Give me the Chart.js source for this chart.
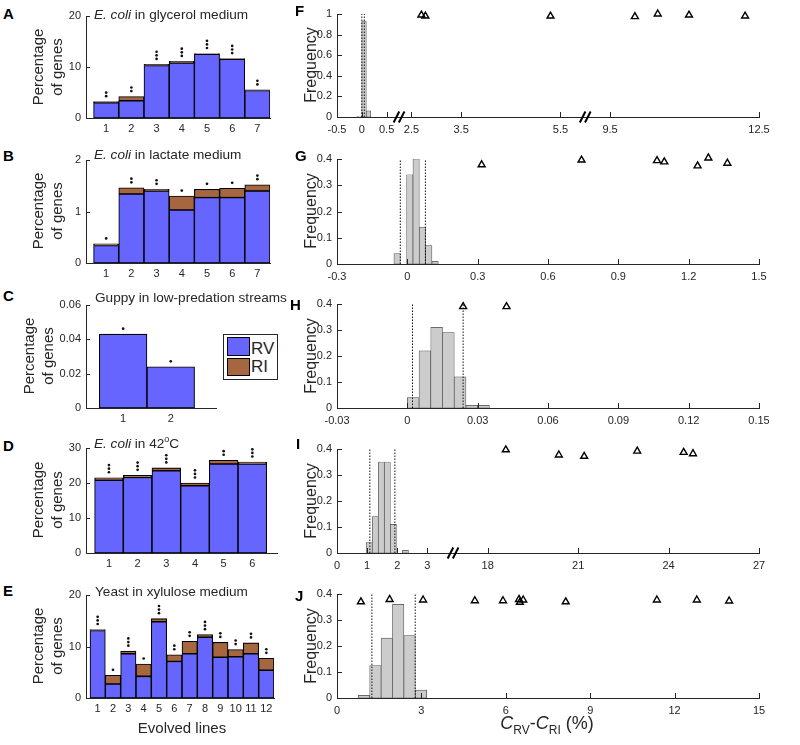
<!DOCTYPE html>
<html><head><meta charset="utf-8">
<script src="https://cdn.jsdelivr.net/npm/chart.js@4.4.0/dist/chart.umd.min.js"></script>
<style>
body{margin:0;background:#fff;width:800px;height:745px;position:relative;overflow:hidden;font-family:'Liberation Sans',Arial,sans-serif;color:#262626}
canvas{position:absolute}
.t{position:absolute;white-space:nowrap;line-height:1}
.L{position:absolute;font-weight:bold;font-size:15px;line-height:1;color:#000}
.ti{position:absolute;white-space:nowrap;font-size:13.6px;line-height:1}
.rot{position:absolute;transform:translate(-50%,-50%) rotate(-90deg);font-size:15px;line-height:19px;text-align:center;white-space:nowrap}
</style></head><body>
<script>
// ---------- DATA ----------
// A: E. coli in glycerol medium
const linesA=[1,2,3,4,5,6,7];
const rvA=[3.0,3.4,10.3,10.8,12.5,11.5,5.4];
const riA=[0.2,0.8,0.2,0.3,0.15,0.15,0.1];
const starsA=[2,2,3,3,3,3,2];
// B: E. coli in lactate medium
const linesB=[1,2,3,4,5,6,7];
const rvB=[0.34,1.34,1.40,1.03,1.27,1.27,1.40];
const riB=[0.03,0.12,0.03,0.27,0.16,0.18,0.12];
const starsB=[1,2,2,1,1,1,2];
// C: Guppy
const linesC=[1,2];
const rvC=[0.043,0.024];
const riC=[0,0];
const starsC=[1,1];
// D: E. coli in 42C
const linesD=[1,2,3,4,5,6];
const rvD=[20.8,21.6,23.5,19.2,25.4,25.4];
const riD=[0.7,0.6,0.8,0.8,1.1,0.6];
const starsD=[3,3,3,3,2,3];
// E: Yeast in xylulose medium
const linesE=[1,2,3,4,5,6,7,8,9,10,11,12];
const rvE=[13.1,2.7,8.6,4.2,14.8,7.1,8.6,11.8,7.9,8.0,8.6,5.4];
const riE=[0.2,1.7,0.5,2.4,0.6,1.3,2.4,0.5,2.9,1.4,2.1,2.3];
const starsE=[3,1,3,1,3,2,2,3,2,2,2,2];

// F
const binF=[-0.045,0.045,0.135];
const freqF=[0.005,0.93,0.06];
const ciF=[0.0,0.05];
const obsFx=[2.70,2.78,5.30,10.0,10.46,11.09,12.22];
const obsFy=[0.99,0.98,0.98,0.975,1.0,0.99,0.98];
const ticksF=[-0.5,0,0.5,2.5,3.5,5.5,9.5,12.5];
// G
const binG=[-0.0435,0.0105,0.0375,0.0645,0.0915,0.1185];
const freqG=[0.04,0.34,0.40,0.14,0.07,0.01];
const ciG=[-0.03,0.077];
const obsGx=[0.317,0.743,1.065,1.096,1.238,1.284,1.365];
const obsGy=[0.378,0.396,0.394,0.389,0.374,0.404,0.384];
const ticksG=[-0.3,0,0.3,0.6,0.9,1.2,1.5];
// H
const binH=[0.0025,0.0075,0.0125,0.0175,0.0225,0.0275,0.0325];
const freqH=[0.04,0.22,0.31,0.29,0.12,0.01,0.01];
const ciH=[0.0022,0.0238];
const obsHx=[0.0238,0.0423];
const obsHy=[0.39,0.39];
const ticksH=[-0.03,0,0.03,0.06,0.09,0.12,0.15];
// I
const binI=[1.07,1.27,1.47,1.67,1.87,2.27];
const freqI=[0.04,0.14,0.35,0.35,0.11,0.01];
const ciI=[1.09,1.92];
const obsIx=[18.6,20.36,21.2,22.96,24.5,24.81];
const obsIy=[0.397,0.377,0.372,0.392,0.387,0.382];
const ticksI=[0,1,2,3,18,21,24,27];
// J
const binJ=[0.96,1.365,1.77,2.175,2.58,2.985];
const freqJ=[0.01,0.125,0.23,0.36,0.24,0.03];
const ciJ=[1.24,2.78];
const obsJx=[0.85,1.87,3.06,4.90,5.90,6.47,6.50,6.62,8.13,11.37,12.79,13.94];
const obsJy=[0.370,0.379,0.377,0.374,0.374,0.379,0.368,0.377,0.370,0.377,0.377,0.373];
const ticksJ=[0,3,6,9,12,15];

const yTicksFreq=[0,0.1,0.2,0.3,0.4];
const yTicksF=[0,0.2,0.4,0.6,0.8,1];

// ---------- STYLE ----------
const AX='#262626', BLUE='#6666ff', BROWN='#a66640', HISTF='#cccccc', HISTE='#4d4d4d';
Chart.defaults.font.family="'Liberation Sans', Arial, sans-serif";
Chart.defaults.font.size=11;
Chart.defaults.color=AX;
Chart.defaults.animation=false;
const YW=50, PT=12, PR=18, XH=26;

function place(r){
  const c=document.createElement('canvas');
  const w=(r[2]-r[0])+YW+PR, h=(r[3]-r[1])+PT+XH;
  c.width=w;c.height=h;
  c.style.left=(r[0]-YW)+'px';c.style.top=(r[1]-PT)+'px';
  c.style.width=w+'px';c.style.height=h+'px';
  document.body.appendChild(c);
  return c;
}
function fmt(v){return String(+v.toFixed(4));}
function xScale(min,max,pos,labels,pad){
  return {type:'linear',min,max,offset:false,stacked:true,
    grid:{display:false,drawTicks:false,offset:false},
    border:{display:true,color:AX,width:1},
    afterBuildTicks:s=>{s.ticks=pos.map(v=>({value:v}));},
    afterFit:s=>{s.height=XH;},
    ticks:{autoSkip:false,maxRotation:0,minRotation:0,padding:pad,callback:(v,i)=>labels[i]}};
}
function yScale(max,pos,stacked){
  return {type:'linear',min:0,max,stacked,
    grid:{display:false,drawTicks:false},
    border:{display:true,color:AX,width:1},
    afterBuildTicks:s=>{s.ticks=pos.map(v=>({value:v}));},
    afterFit:s=>{s.width=YW;},
    ticks:{autoSkip:false,padding:5,callback:(v,i)=>fmt(pos[i])}};
}
function tickPlugin(doX,doY,len){
  return {id:'inTicks',afterDraw(c){
    const ctx=c.ctx,a=c.chartArea;ctx.save();ctx.strokeStyle=AX;ctx.lineWidth=1;ctx.beginPath();
    if(doX){const s=c.scales.x;s.ticks.forEach(t=>{const p=Math.round(s.getPixelForValue(t.value))+0.5;ctx.moveTo(p,a.bottom);ctx.lineTo(p,a.bottom-len);});}
    if(doY){const s=c.scales.y;s.ticks.forEach(t=>{const p=Math.round(s.getPixelForValue(t.value))+0.5;ctx.moveTo(a.left,p);ctx.lineTo(a.left+len,p);});}
    ctx.stroke();ctx.restore();}};
}
function starPlugin(xs,tot,n){
  return {id:'stars',afterDatasetsDraw(c){
    const ctx=c.ctx;ctx.save();ctx.fillStyle='#111';
    xs.forEach((x,i)=>{const px=c.scales.x.getPixelForValue(x),py=c.scales.y.getPixelForValue(tot[i]);
      for(let k=0;k<n[i];k++){ctx.beginPath();ctx.arc(px,py-5.5-k*3.6,1.35,0,2*Math.PI);ctx.fill();}});
    ctx.restore();}};
}
function breakPlugin(us){
  return {id:'brk',afterDraw(c){
    const ctx=c.ctx,a=c.chartArea;ctx.save();ctx.strokeStyle='#000';ctx.lineWidth=2;
    us.forEach(u=>{const p=c.scales.x.getPixelForValue(u);
      [-2.6,2.6].forEach(d=>{ctx.beginPath();ctx.moveTo(p+d-2.8,a.bottom+5.5);ctx.lineTo(p+d+2.8,a.bottom-5.5);ctx.stroke();});});
    ctx.restore();}};
}
function barPanel(r,xs,rv,ri,stars,xmin,xmax,ymax,yt){
  const cv=place(r);
  const tot=rv.map((v,i)=>v+ri[i]);
  const common={borderColor:'#000',borderWidth:1.1,borderSkipped:false,barPercentage:1,categoryPercentage:1,stack:'s'};
  new Chart(cv,{type:'bar',data:{datasets:[
    Object.assign({label:'RV',data:xs.map((x,i)=>({x,y:rv[i]})),backgroundColor:BLUE},common),
    Object.assign({label:'RI',data:xs.map((x,i)=>({x,y:ri[i]})),backgroundColor:BROWN},common)]},
    options:{responsive:false,animation:false,layout:{padding:{top:PT,right:PR,left:0,bottom:0}},
      plugins:{legend:{display:false},tooltip:{enabled:false}},
      scales:{x:xScale(xmin,xmax,xs,xs.map(String),4),y:yScale(ymax,yt,true)}},
    plugins:[tickPlugin(false,true,4),starPlugin(xs,tot,stars)]});
}
function histPanel(r,map,xmin,xmax,ticks,ymax,yt,bins,freq,ci,ox,oy,breaks){
  const cv=place(r);
  const ds=[{type:'bar',data:bins.map((b,i)=>({x:map(b),y:freq[i]})),backgroundColor:HISTF,borderColor:HISTE,borderWidth:0.7,borderSkipped:false,barPercentage:1,categoryPercentage:1,order:2}];
  ci.forEach(v=>ds.push({type:'line',data:[{x:map(v),y:0},{x:map(v),y:ymax}],borderColor:'#111',borderWidth:1,borderDash:[1.5,1.5],pointRadius:0,order:1}));
  ds.push({type:'line',showLine:false,data:ox.map((x,i)=>({x:map(x),y:oy[i]})),pointStyle:'triangle',pointRadius:4,pointBorderWidth:1.4,pointBorderColor:'#000',pointBackgroundColor:'rgba(255,255,255,0)',clip:false,order:0});
  new Chart(cv,{type:'bar',data:{datasets:ds},
    options:{responsive:false,animation:false,layout:{padding:{top:PT,right:PR,left:0,bottom:0}},
      plugins:{legend:{display:false},tooltip:{enabled:false}},
      scales:{x:xScale(xmin,xmax,ticks.map(map),ticks.map(fmt),6),y:yScale(ymax,yt,false)}},
    plugins:[tickPlugin(true,true,5),breakPlugin(breaks)]});
}
const id=v=>v;
const mapF=v=>v<=1?v:(v<=6?v-1.5:v-4.5);
const mapI=v=>v<=4?v:v-13;

barPanel([86,16,270,118],linesA,rvA,riA,starsA,0.2,7.5,20,[0,10,20]);
barPanel([86,160,270,263],linesB,rvB,riB,starsB,0.2,7.5,2,[0,1,2]);
barPanel([86,305,216,408],linesC,rvC,riC,starsC,0.22,2.95,0.06,[0,0.02,0.04,0.06]);
barPanel([86,448,277,553],linesD,rvD,riD,starsD,0.2,6.86,30,[0,10,20,30]);
barPanel([86,595,274,698],linesE,rvE,riE,starsE,0.24,12.5,20,[0,10,20]);

histPanel([337,14,759,117],mapF,-0.5,8.0,ticksF,1,yTicksF,binF,freqF,ciF,obsFx,obsFy,[0.75,4.5]);
histPanel([337,159,759,264],id,-0.3,1.5,ticksG,0.4,yTicksFreq,binG,freqG,ciG,obsGx,obsGy,[]);
histPanel([337,304,759,408],id,-0.03,0.15,ticksH,0.4,yTicksFreq,binH,freqH,ciH,obsHx,obsHy,[]);
histPanel([337,449,759,553],mapI,0,14,ticksI,0.4,yTicksFreq,binI,freqI,ciI,obsIx,obsIy,[3.85]);
histPanel([337,594,759,698],id,0,15,ticksJ,0.4,yTicksFreq,binJ,freqJ,ciJ,obsJx,obsJy,[]);
</script>

<!-- panel letters -->
<div class="L" style="left:3px;top:6px">A</div>
<div class="L" style="left:3px;top:148px">B</div>
<div class="L" style="left:3px;top:288px">C</div>
<div class="L" style="left:3px;top:438px">D</div>
<div class="L" style="left:3px;top:583px">E</div>
<div class="L" style="left:295px;top:3px">F</div>
<div class="L" style="left:295px;top:148px">G</div>
<div class="L" style="left:290px;top:297px">H</div>
<div class="L" style="left:296px;top:436px">I</div>
<div class="L" style="left:295px;top:588px">J</div>

<!-- titles -->
<div class="ti" style="left:94px;top:8px"><i>E. coli</i> in glycerol medium</div>
<div class="ti" style="left:94px;top:148px"><i>E. coli</i> in lactate medium</div>
<div class="ti" style="left:95px;top:291px">Guppy in low-predation streams</div>
<div class="ti" style="left:94px;top:437px"><i>E. coli</i> in 42<span style="font-size:9px;position:relative;top:-6px">o</span>C</div>
<div class="ti" style="left:95px;top:585px">Yeast in xylulose medium</div>

<!-- axis titles -->
<div class="rot" style="left:47px;top:67px">Percentage<br>of genes</div>
<div class="rot" style="left:47px;top:211px">Percentage<br>of genes</div>
<div class="rot" style="left:38px;top:356px">Percentage<br>of genes</div>
<div class="rot" style="left:47px;top:500px">Percentage<br>of genes</div>
<div class="rot" style="left:47px;top:646px">Percentage<br>of genes</div>
<div class="rot" style="left:310px;top:65px;font-size:16px">Frequency</div>
<div class="rot" style="left:310px;top:211px;font-size:16px">Frequency</div>
<div class="rot" style="left:310px;top:356px;font-size:16px">Frequency</div>
<div class="rot" style="left:310px;top:501px;font-size:16px">Frequency</div>
<div class="rot" style="left:310px;top:646px;font-size:16px">Frequency</div>
<div class="t" style="left:182px;top:727px;transform:translate(-50%,-50%);font-size:15px">Evolved lines</div>
<div class="t" style="left:547px;top:725px;transform:translate(-50%,-50%);font-size:18px"><i>C</i><sub style="font-size:12px">RV</sub>-<i>C</i><sub style="font-size:12px">RI</sub> (%)</div>

<!-- legend for C -->
<div style="position:absolute;left:223px;top:334px;width:53px;height:44px;border:1px solid #262626;background:#fff"></div>
<div style="position:absolute;left:227px;top:337px;width:21px;height:17px;background:#6666ff;border:1px solid #000"></div>
<div style="position:absolute;left:227px;top:358px;width:21px;height:16px;background:#a66640;border:1px solid #000"></div>
<div class="t" style="left:251px;top:340px;font-size:17px">RV</div>
<div class="t" style="left:251px;top:358px;font-size:17px">RI</div>
</body></html>
